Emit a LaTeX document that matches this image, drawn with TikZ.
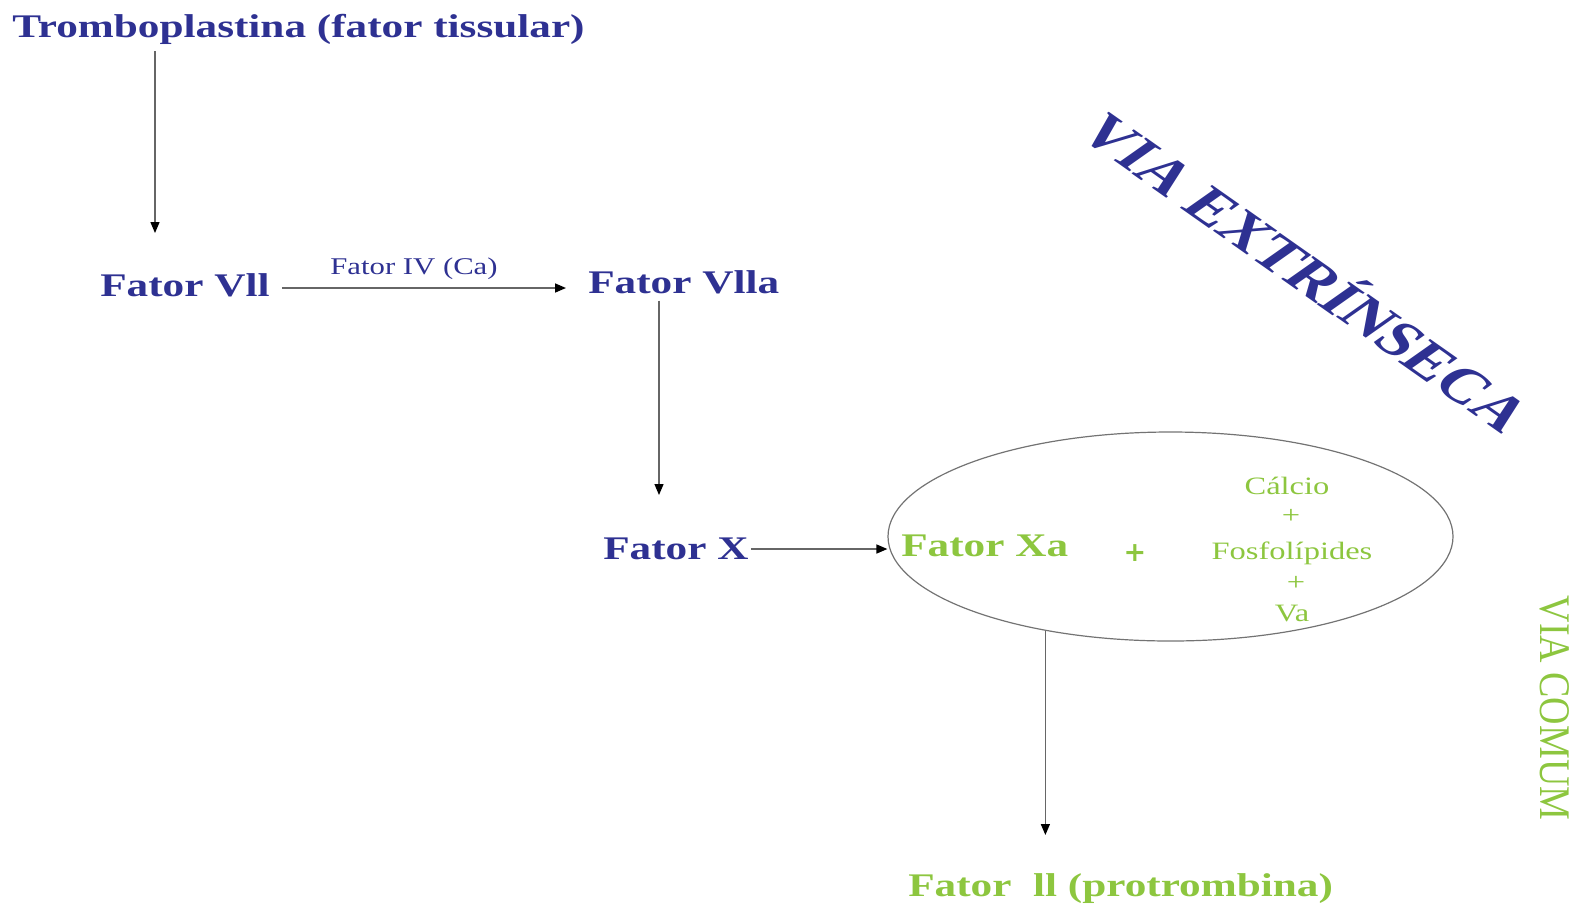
\documentclass[tikz,border=0pt]{standalone}
\usepackage{fontspec}
\setmainfont{Liberation Serif}
\newfontfamily\plusfont{DejaVu Sans}
\usetikzlibrary{shapes.geometric,arrows.meta}
\definecolor{vblue}{RGB}{46,49,146}
\definecolor{vgreen}{RGB}{141,198,63}
\begin{document}
\begin{tikzpicture}[x=1pt,y=-1pt,
 blabel/.style={font=\fontsize{33}{40}\selectfont\bfseries, text=vblue, inner sep=0pt, xscale=1.31},
 glabel/.style={font=\fontsize{33}{40}\selectfont\bfseries, text=vgreen, inner sep=0pt, xscale=1.31},
 gsmall/.style={font=\fontsize{25}{30}\selectfont, text=vgreen, inner sep=0pt, xscale=1.3},
 bsmall/.style={font=\fontsize{24}{28}\selectfont, text=vblue, inner sep=0pt, xscale=1.28},
 arr/.style={draw=black!60, line width=1.6pt, -{Triangle[length=11pt,width=9pt,black]}},
]
\useasboundingbox (0,0) rectangle (1573,906);
\node[blabel, anchor=base west] (title) at (12,37) {Tromboplastina (fator tissular)};
\node[blabel, anchor=base west] (fvii) at (100,296) {Fator Vll};
\node[blabel, anchor=base west] (fviia) at (588,293) {Fator Vlla};
\node[bsmall, anchor=base] (fiv) at (414,274) {Fator IV (Ca)};
\node[blabel, anchor=base west] (fx) at (603,559) {Fator X};
\node[ellipse, draw=black!55, line width=1.2pt, minimum width=565pt, minimum height=209pt, inner sep=0pt] (ell) at (1170.5,536.5) {};
\node[glabel, anchor=base west] (fxa) at (901,556) {Fator Xa};
\node[font=\fontsize{27}{30}\selectfont\plusfont\bfseries, text=vgreen, inner sep=0pt] (plus) at (1135,553) {+};
\node[gsmall, anchor=base] (calc) at (1287,494) {Cálcio};
\node[gsmall] (p1) at (1291,516) {+};
\node[gsmall, anchor=base] (fosf) at (1292,559) {Fosfolípides};
\node[gsmall] (p2) at (1296,583) {+};
\node[gsmall, anchor=base] (va) at (1292,621) {Va};
\node[glabel, anchor=base west] (fii) at (908,896) {Fator~~ll (protrombina)};
\node[font=\fontsize{49}{52}\selectfont\bfseries, text=vblue, inner sep=0pt, xscale=1.42, rotate=-45] (vext) at (1310,270) {VIA EXTRÍNSECA};
\node[font=\fontsize{38}{40}\selectfont, text=vgreen, inner sep=0pt, xscale=1.15, rotate=-90] (vcom) at (1555,708) {VIA COMUM};
\coordinate (a1e) at (155,233);
\coordinate (a2e) at (566,288);
\coordinate (a3e) at (659,495);
\coordinate (a4) at (0,549);
\coordinate (a5e) at (1041,835);
\draw[arr, line width=1.3pt, shorten <=7pt] (title.south -| a1e) -- (a1e);
\draw[arr, shorten <=12pt] (fvii.east |- a2e) -- (a2e);
\draw[arr, line width=1.3pt, shorten <=7pt] (fviia.south -| a3e) -- (a3e);
\draw[arr, shorten <=2pt] (fx.east |- a4) -- (ell.west |- a4);
\draw[arr, line width=1.3pt] (ell.217.5) -- (ell.217.5 |- a5e);
\end{tikzpicture}
\end{document}
